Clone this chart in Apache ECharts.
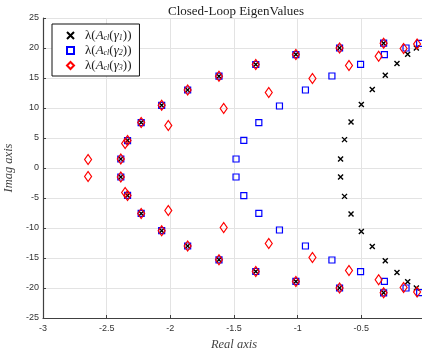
<!DOCTYPE html>
<html>
<head>
<meta charset="utf-8">
<script src="https://cdn.jsdelivr.net/npm/echarts@6/dist/echarts.min.js"></script>
<style>
  html, body { margin: 0; padding: 0; background: #fff; }
  #chart { width: 422px; height: 349px; }
</style>
</head>
<body>
<div id="chart"></div>
<script>
// eigenvalues as [real, imag]
const gamma1 = [
  [-2.389, 1.5], [-2.336, 4.57], [-2.229, 7.57], [-2.068, 10.45], [-1.864, 13.0],
  [-1.618, 15.3], [-1.329, 17.25], [-1.014, 18.9], [-0.671, 20.0], [-0.325, 20.8],
  [-0.663, 1.5], [-0.632, 4.73], [-0.581, 7.67], [-0.5, 10.57], [-0.414, 13.1],
  [-0.312, 15.45], [-0.22, 17.4], [-0.136, 18.95], [-0.068, 20.0],
  [-2.389, -1.5], [-2.336, -4.57], [-2.229, -7.57], [-2.068, -10.45], [-1.864, -13.0],
  [-1.618, -15.3], [-1.329, -17.25], [-1.014, -18.9], [-0.671, -20.0], [-0.325, -20.8],
  [-0.663, -1.5], [-0.632, -4.73], [-0.581, -7.67], [-0.5, -10.57], [-0.414, -13.1],
  [-0.312, -15.45], [-0.22, -17.4], [-0.136, -18.95], [-0.068, -20.0]
]
const gamma2 = [
  [-2.389, 1.5], [-2.336, 4.57], [-2.229, 7.57], [-2.068, 10.45], [-1.864, 13.0],
  [-1.618, 15.3], [-1.329, 17.25], [-1.014, 18.9], [-0.671, 20.0], [-0.325, 20.8],
  [-1.484, 1.5], [-1.423, 4.6], [-1.305, 7.57], [-1.143, 10.33], [-0.939, 13.0],
  [-0.731, 15.33], [-0.506, 17.28], [-0.319, 18.9], [-0.149, 20.0], [-0.042, 20.78],
  [-2.389, -1.5], [-2.336, -4.57], [-2.229, -7.57], [-2.068, -10.45], [-1.864, -13.0],
  [-1.618, -15.3], [-1.329, -17.25], [-1.014, -18.9], [-0.671, -20.0], [-0.325, -20.8],
  [-1.484, -1.5], [-1.423, -4.6], [-1.305, -7.57], [-1.143, -10.33], [-0.939, -13.0],
  [-0.731, -15.33], [-0.506, -17.28], [-0.319, -18.9], [-0.149, -20.0], [-0.042, -20.78]
]
const gamma3 = [
  [-2.389, 1.5], [-2.336, 4.57], [-2.229, 7.57], [-2.068, 10.45], [-1.864, 13.0],
  [-1.618, 15.3], [-1.329, 17.25], [-1.014, 18.9], [-0.671, 20.0], [-0.325, 20.8],
  [-2.646, 1.4], [-2.355, 4.07], [-2.016, 7.07], [-1.581, 9.9], [-1.227, 12.57],
  [-0.884, 14.9], [-0.597, 17.07], [-0.364, 18.62], [-0.168, 19.9], [-0.062, 20.67],
  [-2.389, -1.5], [-2.336, -4.57], [-2.229, -7.57], [-2.068, -10.45], [-1.864, -13.0],
  [-1.618, -15.3], [-1.329, -17.25], [-1.014, -18.9], [-0.671, -20.0], [-0.325, -20.8],
  [-2.646, -1.4], [-2.355, -4.07], [-2.016, -7.07], [-1.581, -9.9], [-1.227, -12.57],
  [-0.884, -14.9], [-0.597, -17.07], [-0.364, -18.62], [-0.168, -19.9], [-0.062, -20.67]
]
const seriesNames = ['g1', 'g2', 'g3']
const subscripts = { g1: '1', g2: '2', g3: '3' }

const chart = echarts.init(document.getElementById('chart'), null, { renderer: 'canvas' })

const serif = "'Liberation Serif', serif"
const axisColor = '#404040'

const option = {
  animation: false,
  backgroundColor: '#fff',
  title: {
    text: 'Closed-Loop EigenValues',
    left: 163,
    top: 0,
    textStyle: { fontFamily: serif, fontWeight: 'normal', fontSize: 13, color: '#222' }
  },
  grid: { left: 43, right: -3, top: 18, bottom: 31, containLabel: false, outerBoundsMode: 'none' },
  legend: {
    orient: 'vertical',
    left: 52,
    top: 24,
    padding: [5, 8, 4, 14],
    itemGap: 2,
    itemWidth: 7,
    itemHeight: 7,
    backgroundColor: '#fff',
    borderColor: '#111',
    borderWidth: 1,
    borderRadius: 0,
    data: seriesNames,
    formatter: name => `{n|λ(}{i|A}{s|cl}{n|(}{i|γ}{s|${subscripts[name]}}{n|))}`,
    textStyle: {
      padding: [0, 0, 0, 6],
      rich: {
        n: { fontFamily: serif, fontSize: 13, color: '#222' },
        i: { fontFamily: serif, fontStyle: 'italic', fontSize: 13, color: '#222' },
        s: { fontFamily: serif, fontStyle: 'italic', fontSize: 8, color: '#222', verticalAlign: 'bottom', padding: [5, 0, 0, 0] }
      }
    }
  },
  xAxis: {
    type: 'value',
    min: -3,
    max: 0,
    interval: 0.5,
    name: 'Real axis',
    nameLocation: 'middle',
    nameGap: 15,
    nameTextStyle: { fontFamily: serif, fontStyle: 'italic', fontSize: 12.5, color: '#444' },
    axisLine: { show: true, onZero: false, lineStyle: { color: axisColor, width: 1.2 } },
    axisTick: { show: true, inside: true, length: 3, lineStyle: { color: axisColor } },
    axisLabel: { fontFamily: 'Liberation Sans, sans-serif', fontSize: 9, color: '#333', margin: 6, showMinLabel: true, showMaxLabel: true },
    splitLine: { show: true, lineStyle: { color: '#e3e3e3', width: 1 } }
  },
  yAxis: {
    type: 'value',
    min: -25,
    max: 25,
    interval: 5,
    name: 'Imag axis',
    nameLocation: 'middle',
    nameGap: 21,
    nameTextStyle: { fontFamily: serif, fontStyle: 'italic', fontSize: 12.5, color: '#444' },
    axisLine: { show: true, onZero: false, lineStyle: { color: axisColor, width: 1.2 } },
    axisTick: { show: true, inside: true, length: 3, lineStyle: { color: axisColor } },
    axisLabel: { fontFamily: 'Liberation Sans, sans-serif', fontSize: 9, color: '#333', margin: 4 },
    splitLine: { show: true, lineStyle: { color: '#e3e3e3', width: 1 } }
  },
  series: [
    {
      name: 'g1',
      type: 'scatter',
      data: gamma1,
      symbol: 'path://M0,0L10,10M10,0L0,10',
      symbolSize: 5,
      itemStyle: { color: 'rgba(0,0,0,0)', borderColor: '#000', borderWidth: 1.4, opacity: 1 }
    },
    {
      name: 'g2',
      type: 'scatter',
      data: gamma2,
      symbol: 'rect',
      symbolSize: 6,
      itemStyle: { color: 'rgba(0,0,0,0)', borderColor: '#0000ff', borderWidth: 1.2, opacity: 1 }
    },
    {
      name: 'g3',
      type: 'scatter',
      data: gamma3,
      symbol: 'diamond',
      symbolSize: [7, 10],
      itemStyle: { color: 'rgba(0,0,0,0)', borderColor: '#ff0000', borderWidth: 1.2, opacity: 1 }
    }
  ]
}

chart.setOption(option)
</script>
</body>
</html>
